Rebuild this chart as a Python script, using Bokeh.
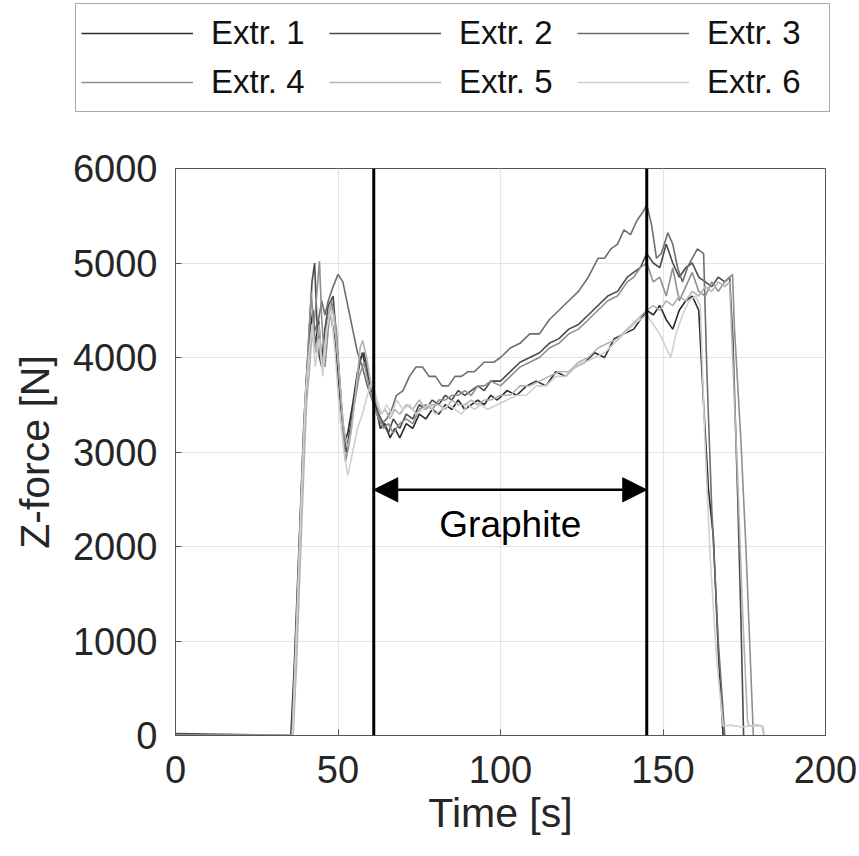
from bokeh.plotting import figure
from bokeh.layouts import column
from bokeh.models import (Legend, LegendItem, Span, Arrow, NormalHead, Label,
                          FixedTicker, Range1d)
from bokeh.embed import file_html
from bokeh.resources import INLINE

# ---------------- data ----------------
names = ["Extr. 1", "Extr. 2", "Extr. 3", "Extr. 4", "Extr. 5", "Extr. 6"]
colors = ["#2b2b2b", "#4a4a4a", "#6e6e6e", "#8f8f8f", "#b3b3b3", "#d0d0d0"]

t1 = [0, 35.5, 36.5, 38, 39.5, 40.5, 41.5, 42.3, 43, 44, 45, 46, 47.5, 49, 50.5, 52, 53, 54.5, 56, 57.5,
      58.5, 60, 61.5, 63, 64.5, 66, 67.5, 69, 71, 73, 75, 77, 79, 81, 83, 85, 87, 89, 91, 93, 95, 97, 99,
      102, 105, 108, 111, 114, 117, 120, 123, 126, 129, 132, 135, 138, 141, 143, 145, 147, 149, 151, 153,
      155, 157, 159, 161, 162.5, 164, 165.5, 167, 168.5]
f1 = [10, 0, 700, 2000, 3300, 3900, 4300, 4500, 4100, 4400, 3950, 4300, 4500, 4200, 3600, 3100, 3200, 3500,
      3850, 4050, 3900, 3700, 3500, 3250, 3300, 3150, 3250, 3150, 3300, 3250, 3400, 3350, 3450, 3400, 3500,
      3450, 3550, 3450, 3500, 3550, 3500, 3600, 3550, 3650, 3600, 3700, 3750, 3700, 3850, 3800, 3900, 3950,
      4050, 4000, 4200, 4250, 4300, 4400, 4500, 4450, 4550, 4400, 4300, 4500, 4600, 4650, 4500, 3500, 2600,
      2100, 900, 0]

t2 = [0, 36, 37, 38.5, 40, 41, 42, 42.8, 43.5, 44.3, 45, 46, 47, 48.5, 50, 51.5, 52.5, 54, 55.5, 57, 58,
      59.5, 61, 62.5, 64, 65.5, 67, 69, 71, 73, 75, 77, 79, 81, 83, 85, 87, 89, 91, 93, 95, 97, 100, 103,
      106, 109, 112, 115, 118, 121, 124, 127, 130, 133, 136, 139, 141, 143, 145, 147, 149, 151, 153, 155,
      157, 159, 161, 163, 165, 167, 169, 170.5, 171.5, 173, 174, 174.8]
f2 = [20, 0, 900, 2300, 3500, 4200, 4800, 5000, 4400, 4000, 3900, 4300, 4550, 4650, 4000, 3300, 3000, 3300,
      3700, 4000, 4050, 3800, 3600, 3400, 3300, 3200, 3350, 3250, 3400, 3350, 3500, 3450, 3550, 3500, 3600,
      3550, 3650, 3600, 3650, 3700, 3650, 3750, 3750, 3850, 3950, 4000, 4050, 4150, 4200, 4300, 4350, 4450,
      4550, 4650, 4700, 4850, 4900, 4950, 5100, 5000, 4950, 5200, 5000, 4850, 4950, 5000, 4850, 4800, 4750,
      4850, 4800, 4850, 4200, 2500, 1200, 0]

t3 = [0, 36, 37.2, 38.7, 40, 41, 42, 43, 44, 45, 46, 47, 48.5, 50, 51.5, 53, 54.5, 56, 57.5, 59, 60.5, 62,
      63.5, 65, 66.5, 68, 70, 72, 74, 76, 78, 80, 82, 84, 86, 88, 90, 92, 95, 98, 100, 103, 106, 109, 112,
      115, 118, 121, 124, 127, 130, 132, 134, 136, 138, 140, 142, 144, 145, 146.5, 148, 149.5, 151.5, 153,
      154.5, 156, 157.5, 159, 160.6, 162.5, 163.5, 165, 167, 169]
f3 = [0, 0, 1000, 2500, 3600, 4000, 4200, 4300, 4400, 4600, 4450, 4600, 4750, 4880, 4800, 4550, 4300, 4050,
      3900, 3700, 3550, 3400, 3300, 3350, 3450, 3600, 3650, 3800, 3900, 3900, 3800, 3800, 3700, 3700, 3800,
      3800, 3850, 3850, 3950, 3950, 4000, 4100, 4150, 4250, 4250, 4400, 4500, 4600, 4700, 4850, 5050, 5050,
      5150, 5200, 5350, 5300, 5450, 5550, 5620, 5400, 5050, 5100, 5320, 5200, 4950, 4800, 4950, 5050, 5150,
      5100, 3850, 2400, 1000, 0]

t4 = [0, 35.8, 36.8, 38.3, 39.8, 40.8, 41.8, 42.5, 43.3, 44.3, 45, 46, 47, 48, 49.5, 51, 52.3, 53.5, 55,
      56.5, 58, 59.5, 61, 62.5, 64, 65.5, 67, 69, 71, 73, 75, 77, 79, 81, 83, 85, 87, 89, 91, 93, 95, 97,
      100, 103, 106, 109, 112, 115, 118, 121, 124, 127, 130, 133, 136, 139, 141, 143, 145, 147, 149, 151,
      153, 155, 157, 159, 161, 163, 165, 167, 169, 171.4, 172, 174, 175.5, 177, 177.8]
f4 = [0, 0, 800, 2200, 3500, 4100, 4700, 4300, 4600, 5020, 4400, 3900, 4300, 4600, 4300, 3500, 2900, 3100,
      3500, 3800, 3950, 3700, 3500, 3350, 3250, 3300, 3200, 3300, 3350, 3300, 3450, 3500, 3450, 3550, 3550,
      3600, 3600, 3650, 3600, 3700, 3700, 3750, 3700, 3800, 3900, 3950, 4000, 4100, 4150, 4250, 4300, 4400,
      4500, 4600, 4650, 4800, 4850, 4950, 5000, 4800, 4850, 4650, 4950, 4600, 4750, 4900, 4700, 4650, 4800,
      4700, 4800, 4880, 4300, 3100, 2000, 700, 0]

t5 = [0, 36.2, 37.3, 38.9, 40.3, 41.3, 42.2, 43.2, 44.2, 45.2, 46.3, 47.5, 48.7, 50.2, 51.6, 52.8, 54, 55.5,
      56.8, 57.6, 58.8, 60.2, 61.5, 63, 64.5, 66, 67.5, 69, 71, 73, 75, 77, 79, 81, 83, 85, 87, 89, 91, 93,
      95, 97, 100, 103, 106, 109, 112, 115, 118, 121, 124, 127, 130, 133, 136, 139, 142, 145, 147, 149, 151,
      153, 155, 157, 159, 161, 163, 165, 167, 169, 170.5, 171.2, 173, 174.5, 176, 176.5, 179, 180.5, 181]
f5 = [0, 0, 800, 2300, 3500, 3900, 4350, 4050, 4350, 3900, 4250, 4550, 4450, 3900, 3300, 3050, 3200, 3650,
      4100, 4180, 4000, 3700, 3550, 3400, 3450, 3350, 3450, 3400, 3500, 3450, 3550, 3450, 3500, 3500, 3450,
      3550, 3500, 3500, 3550, 3500, 3550, 3550, 3600, 3600, 3700, 3700, 3750, 3800, 3850, 3850, 3950, 4000,
      4100, 4150, 4200, 4300, 4400, 4500, 4550, 4500, 4600, 4550, 4650, 4600, 4700, 4650, 4750, 4700, 4800,
      4750, 4800, 4200, 2700, 1300, 150, 100, 110, 100, 0]

t6 = [0, 36, 37, 38.6, 40, 41, 42, 43, 44.2, 45.3, 46.5, 47.8, 49, 50.5, 52, 53, 54.5, 56, 57.5, 59, 60.5,
      62, 63.5, 65, 66.5, 68, 70, 72, 74, 76, 78, 80, 82, 84, 86, 88, 90, 92, 94, 96, 99, 102, 105, 108,
      111, 114, 117, 120, 123, 126, 129, 132, 135, 138, 141, 143, 145, 147, 149, 151, 152.4, 154, 156, 158,
      160, 161.5, 162.8, 164.5, 166.5, 168.5, 171, 174, 177, 180.8, 181.2]
f6 = [0, 0, 900, 2400, 3600, 4000, 4350, 3900, 4200, 3800, 4300, 4500, 4100, 3400, 2950, 2750, 3000, 3250,
      3400, 3600, 3750, 3550, 3400, 3500, 3400, 3550, 3450, 3500, 3400, 3450, 3500, 3400, 3450, 3500, 3450,
      3400, 3500, 3450, 3500, 3450, 3500, 3550, 3600, 3600, 3700, 3700, 3800, 3800, 3900, 3950, 4000, 4050,
      4150, 4250, 4350, 4400, 4450, 4350, 4250, 4100, 4000, 4250, 4450, 4600, 4650, 4550, 3200, 1900, 800,
      100, 110, 90, 100, 100, 0]

series_t = [t1, t2, t3, t4, t5, t6]
series_f = [f1, f2, f3, f4, f5, f6]

graphite_start = 61
graphite_end = 145
arrow_y = 2600
graphite_label = "Graphite"
graphite_label_pos = (103, 2230)

x_ticks = [0, 50, 100, 150, 200]
y_ticks = [0, 1000, 2000, 3000, 4000, 5000, 6000]

# ---------------- figures ----------------
FONT = "Liberation Sans"
TXT = "#262626"
LEG_H = 120

# main plot
p = figure(width=859, height=856 - LEG_H, output_backend="svg", toolbar_location=None,
           x_range=Range1d(0, 200), y_range=Range1d(0, 6000),
           min_border_left=175, min_border_right=34, min_border_top=168 - LEG_H, min_border_bottom=121)
p.frame_align = False
p.outline_line_color = "#555555"
p.outline_line_width = 1
p.background_fill_color = "white"
p.border_fill_color = "white"

for t, f, c in zip(series_t, series_f, colors):
    p.line(t, f, line_color=c, line_width=1.6)

for ax in (p.xaxis[0], p.yaxis[0]):
    ax.major_label_text_font = FONT
    ax.major_label_text_font_size = "38px"
    ax.major_label_text_color = TXT
    ax.axis_label_text_font = FONT
    ax.axis_label_text_font_size = "41px"
    ax.axis_label_text_font_style = "normal"
    ax.axis_label_text_color = TXT
    ax.axis_line_color = "#555555"
    ax.major_tick_line_color = "#555555"
    ax.major_tick_in = 6
    ax.major_tick_out = 0
    ax.minor_tick_line_color = None

p.xaxis.ticker = FixedTicker(ticks=x_ticks)
p.yaxis.ticker = FixedTicker(ticks=y_ticks)
p.xaxis.axis_label = "Time [s]"
p.yaxis.axis_label = "Z-force [N]"
p.xaxis.major_label_standoff = 20
p.yaxis.major_label_standoff = 18
p.xaxis.axis_label_standoff = 4
p.yaxis.axis_label_standoff = 12

p.xgrid.grid_line_color = "#e3e3e3"
p.ygrid.grid_line_color = "#e3e3e3"
p.xgrid.grid_line_width = 1.2
p.ygrid.grid_line_width = 1.2

for xv in (graphite_start, graphite_end):
    p.add_layout(Span(location=xv, dimension="height", line_color="black", line_width=3))

p.add_layout(Arrow(x_start=graphite_start, y_start=arrow_y, x_end=graphite_end, y_end=arrow_y,
                   line_color="black", line_width=2.5,
                   start=NormalHead(size=24, fill_color="black", line_color="black"),
                   end=NormalHead(size=24, fill_color="black", line_color="black")))

p.add_layout(Label(x=graphite_label_pos[0], y=graphite_label_pos[1], text=graphite_label,
                   text_font=FONT, text_font_size="37px", text_color="black",
                   text_align="center", text_baseline="middle"))

# legend strip (same series, drawn off-range so only the legend shows)
lf = figure(width=859, height=LEG_H, output_backend="svg", toolbar_location=None,
            x_range=Range1d(1000, 1001), y_range=Range1d(1000, 1001),
            x_axis_location=None, y_axis_location=None,
            min_border_left=74, min_border_right=24, min_border_top=0, min_border_bottom=0)
lf.frame_align = False
lf.outline_line_color = None
lf.xgrid.visible = False
lf.ygrid.visible = False
leg_renderers = [lf.line(t, f, line_color=c, line_width=1.6)
                 for t, f, c in zip(series_t, series_f, colors)]

items = [LegendItem(label=n, renderers=[r]) for n, r in zip(names, leg_renderers)]
legend = Legend(items=items, ncols=3, orientation="horizontal",
                location=(1, 8),
                label_text_font=FONT, label_text_font_size="33px", label_text_color="#111111",
                glyph_width=112, glyph_height=48, label_standoff=18, label_width=117,
                spacing=1, padding=5, margin=0,
                border_line_color="#555555", border_line_width=1,
                background_fill_color="white", background_fill_alpha=1.0)
lf.add_layout(legend, "center")

layout = column(lf, p, spacing=0)
open("out.html", "w").write(file_html(layout, INLINE))
